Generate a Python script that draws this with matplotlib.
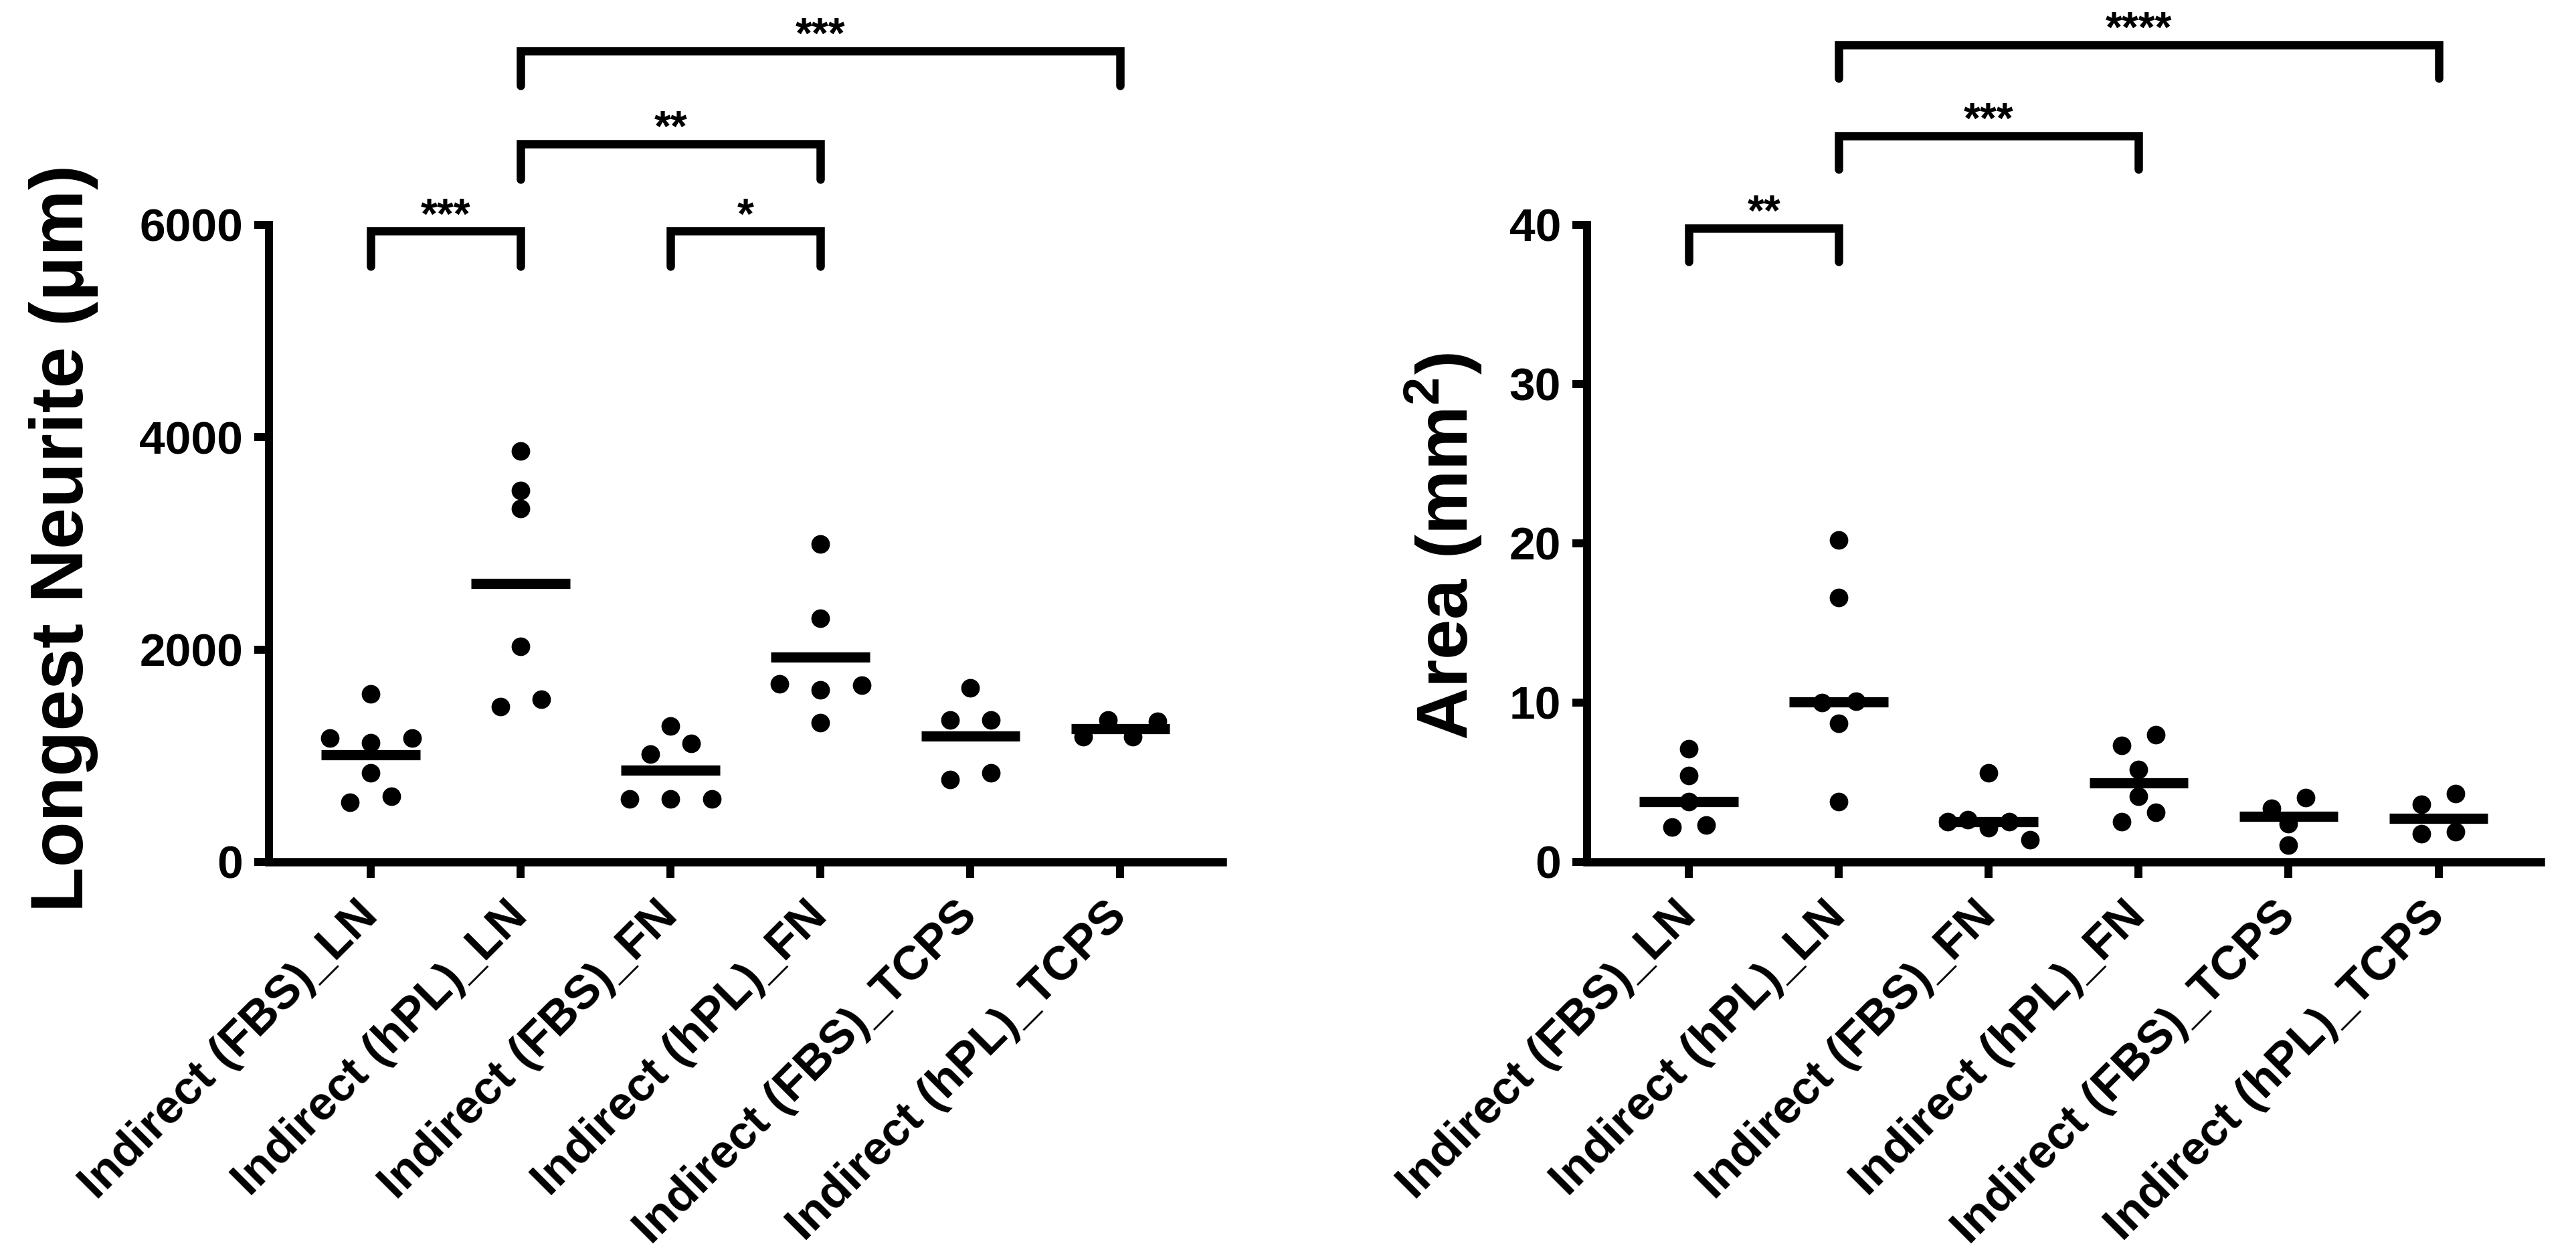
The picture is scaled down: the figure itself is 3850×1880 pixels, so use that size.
import numpy as np
import matplotlib
matplotlib.use("Agg")
import matplotlib.pyplot as plt

plt.rcParams['font.family'] = ['Liberation Sans', 'DejaVu Sans']
plt.rcParams['font.weight'] = 'bold'
plt.rcParams['mathtext.fontset'] = 'custom'
plt.rcParams['mathtext.rm'] = 'Liberation Sans:bold'
plt.rcParams['mathtext.bf'] = 'Liberation Sans:bold'

# group names (x tick labels)
groups = ['Indirect (FBS)_LN', 'Indirect (hPL)_LN', 'Indirect (FBS)_FN',
          'Indirect (hPL)_FN', 'Indirect (FBS)_TCPS', 'Indirect (hPL)_TCPS']

# longest neurite (um), one list per group
neurite_fbs_ln = [1583, 1166, 1166, 1123, 835, 619, 561]
neurite_hpl_ln = [3872, 3497, 3325, 2029, 1531, 1462]
neurite_fbs_fn = [1281, 1117, 1013, 590, 590, 590]
neurite_hpl_fn = [2994, 2297, 1675, 1664, 1618, 1310]
neurite_fbs_tcps = [1641, 1339, 1339, 835, 777]
neurite_hpl_tcps = [1339, 1324, 1180, 1180]

# area (mm2), one list per group
area_fbs_ln = [7.1, 5.4, 3.8, 2.3, 2.2]
area_hpl_ln = [20.2, 16.6, 10.1, 10.0, 8.7, 3.8]
area_fbs_fn = [5.6, 2.65, 2.5, 2.5, 2.16, 1.4]
area_hpl_fn = [8.0, 7.3, 5.8, 4.1, 3.1, 2.5]
area_fbs_tcps = [4.05, 3.35, 2.4, 1.05]
area_hpl_tcps = [4.3, 3.6, 1.9, 1.75]

# significance brackets: (group a, group b), label, bracket height
neurite_pairs = [(0, 1), (2, 3), (1, 3), (1, 5)]
neurite_stars = ['***', '*', '**', '***']
neurite_tops = [5940, 5940, 6760, 7640]

area_pairs = [(0, 1), (1, 3), (1, 5)]
area_stars = ['**', '***', '****']
area_tops = [39.8, 45.6, 51.3]


def spread(vals, thresh, step):
    # simple column scatter: values close together are put side by side
    vals = np.asarray(vals, dtype=float)
    order = np.argsort(-vals, kind='stable')
    offs = np.zeros(len(vals))
    clusters, cur = [], [order[0]]
    for i in order[1:]:
        if vals[cur[-1]] - vals[i] < thresh:
            cur.append(i)
        else:
            clusters.append(cur)
            cur = [i]
    clusters.append(cur)
    slots = {1: [0], 2: [0.5, -0.5], 3: [-1, 1, 0],
             4: [-0.5, 1.5, -1.5, 0.5], 5: [-1, -2, 1, 0, 2]}
    for c in clusters:
        n = len(c)
        s = slots.get(n, list(np.arange(n) - (n - 1) / 2))
        f = step if n <= 3 else step * 0.6
        for i, k in zip(c, s):
            offs[i] = k * f
    return offs


def panel(ax, data, stat, thresh, step, ymax, yticks, pairs, stars, tops, drop):
    for i, vals in enumerate(data):
        x = i + spread(vals, thresh, step)
        ax.plot(x, vals, 'o', color='black', markersize=19, zorder=3, clip_on=False)
        c = stat(vals)
        ax.plot([i - 0.33, i + 0.33], [c, c], color='black', lw=11,
                solid_capstyle='butt', zorder=4)
    for (a, b), s, t in zip(pairs, stars, tops):
        ax.plot([a, a, b, b], [t - drop, t, t, t - drop], color='black', lw=9,
                solid_joinstyle='miter', solid_capstyle='round', clip_on=False)
        ax.annotate(s, xy=((a + b) / 2, t), xytext=(0, 3), textcoords='offset points',
                    ha='center', va='baseline', fontsize=46, fontweight='bold',
                    annotation_clip=False)
    ax.set_xlim(-0.68, 5.68)
    ax.set_ylim(0, ymax)
    ax.set_yticks(yticks)
    ax.set_xticks(range(len(groups)))
    ax.set_xticklabels(groups, rotation=45, ha='right', va='center',
                       rotation_mode='anchor', fontsize=51, fontweight='bold')
    for lab in ax.get_yticklabels():
        lab.set_fontsize(50)
        lab.set_fontweight('bold')
    ax.spines['top'].set_visible(False)
    ax.spines['right'].set_visible(False)
    ax.spines['left'].set_linewidth(8.6)
    ax.spines['bottom'].set_linewidth(9)
    ax.tick_params(axis='y', direction='out', length=16, width=8.6, pad=12)
    ax.tick_params(axis='x', direction='out', length=17, width=8.6, pad=34)


fig = plt.figure(figsize=(38.5, 18.8), dpi=100)
ax1 = fig.add_axes([0.1044, 0.3149, 0.3701, 0.5064])
ax2 = fig.add_axes([0.6161, 0.3149, 0.3701, 0.5064])

neurite = [neurite_fbs_ln, neurite_hpl_ln, neurite_fbs_fn,
           neurite_hpl_fn, neurite_fbs_tcps, neurite_hpl_tcps]
area = [area_fbs_ln, area_hpl_ln, area_fbs_fn,
        area_hpl_fn, area_fbs_tcps, area_hpl_tcps]

panel(ax1, neurite, np.mean, 150, 0.275, 6000, [0, 2000, 4000, 6000],
      neurite_pairs, neurite_stars, neurite_tops, 330)
panel(ax2, area, np.median, 0.95, 0.23, 40, [0, 10, 20, 30, 40],
      area_pairs, area_stars, area_tops, 2.1)

fig.text(0.0247, 0.5723, 'Longest Neurite (μm)', rotation=90, ha='center', va='center',
         fontsize=80, fontweight='bold')
fig.text(0.5603, 0.5654, r'Area (mm$^{\mathbf{2}}$)', rotation=90, ha='center', va='center',
         fontsize=78, fontweight='bold')

fig.savefig('out.png', dpi=100, facecolor='white')
